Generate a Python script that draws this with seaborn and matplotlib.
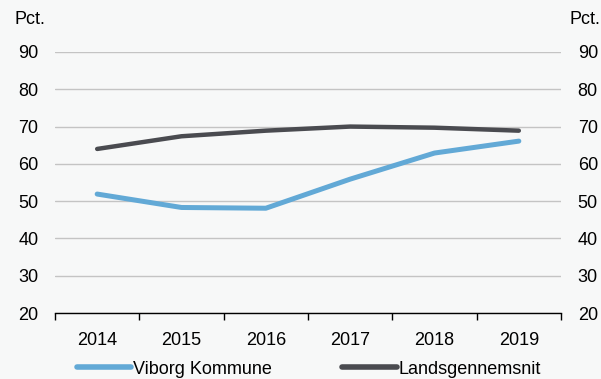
import matplotlib
matplotlib.use("Agg")
import matplotlib.pyplot as plt
import seaborn as sns
import pandas as pd
import numpy as np

years = ["2014", "2015", "2016", "2017", "2018", "2019"]
viborg = [51.9, 48.3, 48.1, 55.9, 62.9, 66.1]
landsgennemsnit = [64.0, 67.4, 68.9, 70.0, 69.7, 68.9]
series_names = ["Viborg Kommune", "Landsgennemsnit"]
y_ticks = [20, 30, 40, 50, 60, 70, 80, 90]

sns.set_theme(style="white")
plt.rcParams["font.family"] = ["Liberation Sans", "DejaVu Sans"]
plt.rcParams["text.color"] = "#000000"

bg = "#f7f8f8"
colors = {"Viborg Kommune": "#62a9d6", "Landsgennemsnit": "#4a4b50"}

df = pd.DataFrame({
    "år": years * 2,
    "pct": viborg + landsgennemsnit,
    "serie": [series_names[0]] * len(years) + [series_names[1]] * len(years),
})

fig = plt.figure(figsize=(6.01, 3.79), dpi=100, facecolor=bg)
ax = fig.add_axes([55 / 601, 1 - 313 / 379, (561 - 55) / 601, (313 - 52) / 379])
ax.set_facecolor(bg)

sns.lineplot(data=df, x="år", y="pct", hue="serie", palette=colors,
             hue_order=series_names, ax=ax, legend=False, sort=False)
for line, lw in zip(ax.get_lines(), [3.6, 3.2]):
    line.set_linewidth(lw)
    line.set_solid_capstyle("round")

ax.set_xlim(-0.5, len(years) - 0.5)
ax.set_ylim(20, 90)
ax.set_yticks(y_ticks)
ax.yaxis.grid(True, color="#c4c4c4", linewidth=1.0)
ax.set_axisbelow(True)
for s in ["left", "right", "top"]:
    ax.spines[s].set_visible(False)
ax.spines["bottom"].set_color("#000000")
ax.spines["bottom"].set_linewidth(1.0)

fs = 13
ax.set_xticks(range(len(years)))
ax.set_xticklabels(years)
ax.set_xticks(np.arange(-0.5, len(years), 1.0), minor=True)
ax.tick_params(axis="x", which="major", bottom=False, length=0, pad=14,
               labelsize=fs, labelcolor="#000000")
ax.tick_params(axis="x", which="minor", bottom=True, length=5, width=1,
               color="#000000", direction="out")
ax.tick_params(axis="y", left=False, right=False, length=0, labelleft=True,
               labelright=True, labelsize=fs, pad=12, labelcolor="#000000")
ax.set_xlabel("")
ax.set_ylabel("")

fig.text(15 / 601, 1 - 19 / 379, "Pct.", fontsize=fs, va="center", ha="left", color="#000000")
fig.text(600 / 601, 1 - 19 / 379, "Pct.", fontsize=fs, va="center", ha="right", color="#000000")

handles = [plt.Line2D([], [], color=colors[n], linewidth=4, solid_capstyle="round") for n in series_names]
leg = fig.legend(handles, series_names, loc="center", bbox_to_anchor=(309 / 601, 1 - 369 / 379),
                 ncol=2, frameon=False, fontsize=fs, handlelength=3.0, handletextpad=0.1,
                 columnspacing=3.9, borderaxespad=0)
for t in leg.get_texts():
    t.set_color("#000000")

fig.savefig("out.png", dpi=100, facecolor=bg)
